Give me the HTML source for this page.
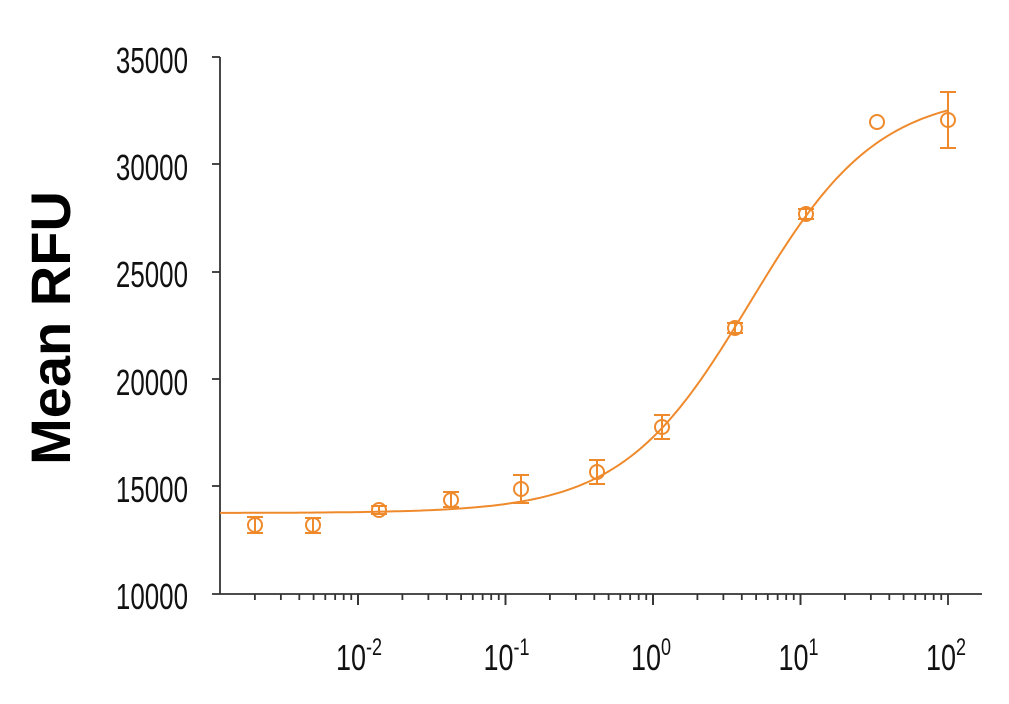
<!DOCTYPE html>
<html><head><style>body{margin:0;background:#fff}</style></head><body>
<svg width="1009" height="699" xmlns="http://www.w3.org/2000/svg" id="s">
<g stroke="#333" stroke-width="1.8" fill="none" id="ax">
<line x1="220" y1="57" x2="220" y2="594"/>
<line x1="212" y1="594" x2="982" y2="594"/>
</g>
<g font-family="Liberation Sans, sans-serif" font-size="36" fill="#111" text-anchor="end">
<text x="188" y="73" transform="scale(0.72,1)" transform-origin="188 73">35000</text>
<text x="188" y="180" transform="scale(0.72,1)" transform-origin="188 180">30000</text>
<text x="188" y="287" transform="scale(0.72,1)" transform-origin="188 287">25000</text>
<text x="188" y="395" transform="scale(0.72,1)" transform-origin="188 395">20000</text>
<text x="188" y="502" transform="scale(0.72,1)" transform-origin="188 502">15000</text>
<text x="188" y="609" transform="scale(0.72,1)" transform-origin="188 609">10000</text>
</g>
<g font-family="Liberation Sans, sans-serif" font-size="36" fill="#111" id="xl"></g>
<text transform="translate(70,328) rotate(-90)" font-family="Liberation Sans, sans-serif" font-weight="bold" font-size="56" text-anchor="middle" fill="#000">Mean RFU</text>
<g id="d" stroke="#ef8a2c" stroke-width="2" fill="none"></g>
</svg>
<script>
var ns="http://www.w3.org/2000/svg";
function el(p,t,a,txt){var e=document.createElementNS(ns,t);for(var k in a)e.setAttribute(k,a[k]);if(txt)e.textContent=txt;document.getElementById(p).appendChild(e);return e;}
[57,164,272,379,486].forEach(function(y){el('ax','line',{x1:212,y1:y,x2:220,y2:y});});
var dec=147.5,x0=358;
for(var d=-3;d<2;d++){for(var m=1;m<=10;m++){var x=x0+dec*(d+2)+dec*Math.log10(m);if(x<221||x>982)continue;el('ax','line',{x1:x,y1:594,x2:x,y2:m==10||m==1?605:600});}}
var labs=["-2","-1","0","1","2"];
labs.forEach(function(l,i){var x=x0+dec*i;var t=el('xl','text',{x:x-22,y:670,transform:"scale(0.75,1)","transform-origin":(x-22)+" 670"},"10");var s=el('xl','tspan',{"font-size":"24",dy:"-15"},l);t.appendChild(s);});
var p="";for(var x=220;x<=948;x+=4){var y=92+(513-92)/(1+Math.exp((x-750)/64));p+=(x==220?"M":"L")+x+","+y.toFixed(1);}
el('d','path',{d:p});
var pts=[[255,525,517,533],[313,525,518,533],[379,510,506,514],[451,500,492,507],[521,489,475,503],[597,472,460,484],[662,427,415,439],[735,328,323,333],[806,214,209,219],[877,122,null,null],[948,120,92,148]];
pts.forEach(function(q){el('d','circle',{cx:q[0],cy:q[1],r:7});if(q[2]!==null){el('d','line',{x1:q[0],y1:q[2],x2:q[0],y2:q[3]});el('d','line',{x1:q[0]-8,y1:q[2],x2:q[0]+8,y2:q[2]});el('d','line',{x1:q[0]-8,y1:q[3],x2:q[0]+8,y2:q[3]});}});
</script>
</body></html>
